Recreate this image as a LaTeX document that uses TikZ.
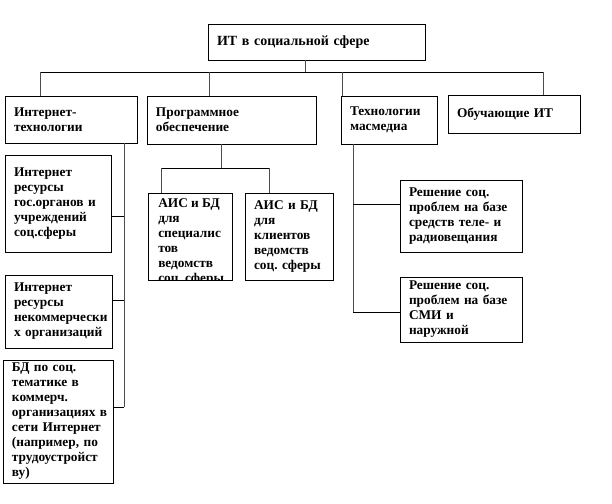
\documentclass[tikz,border=0pt]{standalone}
\usepackage{fontspec}
\setmainfont{Liberation Serif}
\frenchspacing
\begin{document}
\begin{tikzpicture}[x=0.75pt,y=-0.75pt,
  box/.style={draw=black, line width=0.6pt, fill=white, inner xsep=6.75pt, inner ysep=0pt,
    align=left, font=\fontsize{10}{11.25}\selectfont\bfseries\frenchspacing},
  ln/.style={line width=0.6pt, black},
  vln/.style={line width=0.6pt, black!70},
  txt/.style={inner sep=0pt, align=left, font=\fontsize{10}{11.25}\selectfont\bfseries\frenchspacing}]
\useasboundingbox (0,0) rectangle (612,504);
% boxes
\node[box, minimum width=162.75pt, minimum height=27pt, text width=149.25pt,
  font=\fontsize{10.5}{12}\selectfont\bfseries] (top) at (316.5,42) {ИТ в социальной сфере};
\node[box, minimum width=99pt, minimum height=35.25pt, text width=85.5pt] (inet) at (71,119.5) {Интернет-\\технологии};
\node[box, minimum width=126.75pt, minimum height=36pt, text width=113.25pt] (prog) at (231.5,120) {Программное\\обеспечение};
\node[box, minimum width=72pt, minimum height=36pt, text width=58.5pt] (tech) at (389,120) {Технологии\\масмедиа};
\node[box, minimum width=99pt, minimum height=28.5pt, text width=85.5pt] (obuch) at (514,114) {Обучающие ИТ};
\node[box, minimum width=79.5pt, minimum height=72.75pt, text width=66pt] (l1) at (58,203.5) {Интернет\\ресурсы\\\mbox{гос.органов и}\\учреждений\\соц.сферы};
\node[box, minimum width=80.25pt, minimum height=54.75pt, text width=66.75pt] (l2) at (58.5,311.5) {Интернет\\ресурсы\\\mbox{некоммерчески}\\х организаций};
\node[box, minimum width=82.5pt, minimum height=92.25pt, text width=69pt] (l3) at (58,421.5) {БД по соц.\\тематике в\\коммерч.\\\mbox{организациях в}\\\mbox{сети Интернет}\\\mbox{(например, по}\\\mbox{трудоустройст}\\ву)};
\node[box, minimum width=63pt, minimum height=65.25pt] (a1) at (190,236.5) {};
\begin{scope}
  \clip (a1.south west) rectangle (a1.north east);
  \node[txt, anchor=north west] (a1t) at (158,198.5) {АИС и БД\\для\\специалис\\тов\\ведомств\\соц. сферы};
\end{scope}
\node[box, minimum width=66pt, minimum height=65.25pt, text width=52.5pt] (a2) at (289,236.5) {АИС и БД\\для\\клиентов\\ведомств\\\mbox{соц. сферы}};
\node[box, minimum width=91.5pt, minimum height=54pt, text width=78pt] (r1) at (461,216) {Решение соц.\\\mbox{проблем на базе}\\\mbox{средств теле- и}\\радиовещания};
\node[box, minimum width=91.5pt, minimum height=48.75pt, text width=78pt] (r2) at (461,309.5) {Решение соц.\\\mbox{проблем на базе}\\СМИ и\\наружной};
% junctions
\coordinate (j0) at (305,72);
\coordinate (d1) at (40,72);
\coordinate (d2) at (209,72);
\coordinate (d3) at (342,72);
\coordinate (d4) at (543,72);
\coordinate (pj) at (221,168);
\coordinate (pa) at (161,168);
\coordinate (pb) at (269,168);
\coordinate (t1) at (353,204);
\coordinate (t2) at (353,312);
\coordinate (q1) at (124,216);
\coordinate (q2) at (124,300);
\coordinate (q3) at (124,407);
% connectors
\draw[vln] (top.south -| j0) -- (j0);
\draw[ln] (d1) -- (d4);
\draw[vln] (d1) -- (inet.north -| d1);
\draw[vln] (d2) -- (prog.north -| d2);
\draw[vln] (d3) -- (tech.north -| d3);
\draw[vln] (d4) -- (obuch.north -| d4);
\draw[vln] (prog.south -| pj) -- (pj);
\draw[ln] (pa) -- (pb);
\draw[vln] (pa) -- (a1.north -| pa);
\draw[vln] (pb) -- (a2.north -| pb);
\draw[vln] (tech.south -| t1) -- (t2);
\draw[ln] (t1) -- (t1 -| r1.west);
\draw[ln] (t2) -- (t2 -| r2.west);
\draw[vln] (inet.south -| q1) -- (q3);
\draw[ln] (q1) -- (q1 -| l1.east);
\draw[ln] (q2) -- (q2 -| l2.east);
\draw[ln] (q3) -- (q3 -| l3.east);
\end{tikzpicture}
\end{document}
